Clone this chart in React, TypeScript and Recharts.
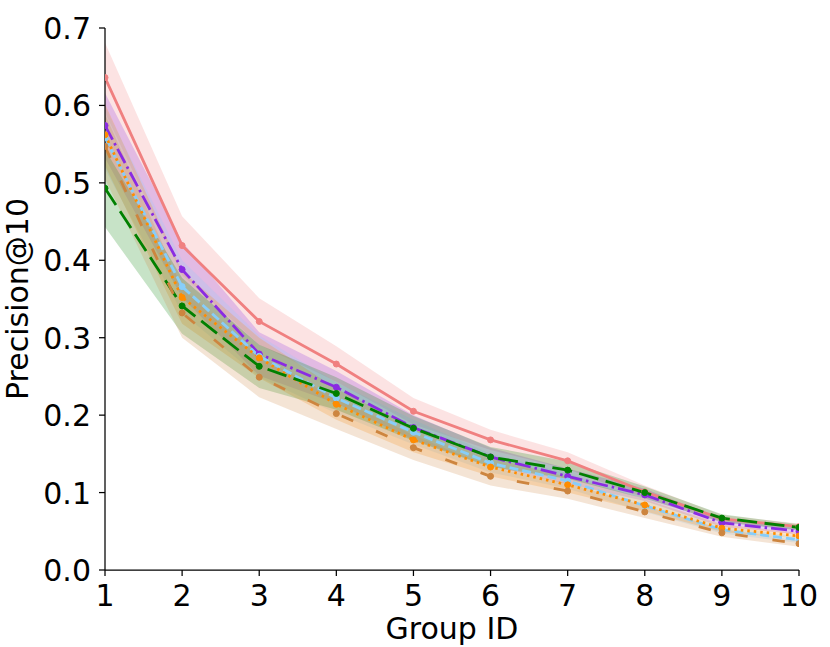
import { Area, ComposedChart, Customized, Line, XAxis, YAxis } from "recharts";

const FONT = "DejaVu Sans, sans-serif";

const GROUPS = [1, 2, 3, 4, 5, 6, 7, 8, 9, 10];
const Y_TICKS = [0, 0.1, 0.2, 0.3, 0.4, 0.5, 0.6, 0.7];

const RED = [0.636, 0.419, 0.321, 0.266, 0.205, 0.168, 0.141, 0.101, 0.066, 0.056];
const RED_ERR = [0.045, 0.038, 0.03, 0.023, 0.017, 0.013, 0.011, 0.008, 0.005, 0.004];

const PURPLE = [0.574, 0.388, 0.279, 0.236, 0.184, 0.146, 0.121, 0.097, 0.061, 0.05];
const PURPLE_ERR = [0.042, 0.036, 0.028, 0.021, 0.016, 0.012, 0.01, 0.008, 0.005, 0.004];

const SKY = [0.558, 0.366, 0.276, 0.222, 0.178, 0.138, 0.115, 0.083, 0.052, 0.039];
const SKY_ERR = [0.04, 0.034, 0.027, 0.02, 0.016, 0.012, 0.01, 0.008, 0.005, 0.004];

const ORANGE = [0.562, 0.352, 0.274, 0.214, 0.168, 0.133, 0.11, 0.084, 0.054, 0.044];
const ORANGE_ERR = [0.04, 0.034, 0.026, 0.02, 0.016, 0.012, 0.01, 0.008, 0.005, 0.004];

const GREEN = [0.493, 0.341, 0.263, 0.228, 0.183, 0.146, 0.129, 0.1, 0.067, 0.055];
const GREEN_ERR = [0.05, 0.036, 0.028, 0.021, 0.016, 0.013, 0.011, 0.008, 0.005, 0.004];

const PERU = [0.547, 0.332, 0.249, 0.202, 0.158, 0.121, 0.102, 0.075, 0.048, 0.034];
const PERU_ERR = [0.042, 0.032, 0.026, 0.02, 0.016, 0.012, 0.01, 0.008, 0.005, 0.004];

const SERIES = [
  { key: "red", color: "#F08080", values: RED, err: RED_ERR, dash: undefined },
  { key: "purple", color: "#8A2BE2", values: PURPLE, err: PURPLE_ERR, dash: "16 4 2.5 4" },
  { key: "sky", color: "#87CEFA", values: SKY, err: SKY_ERR, dash: "9 4" },
  { key: "orange", color: "#FF8C00", values: ORANGE, err: ORANGE_ERR, dash: "2.5 4" },
  { key: "green", color: "#008000", values: GREEN, err: GREEN_ERR, dash: "20 7.5" },
  { key: "peru", color: "#CD853F", values: PERU, err: PERU_ERR, dash: "12.5 25" },
];

const data = GROUPS.map((group, i) => {
  const row: Record<string, number | number[]> = { group };
  SERIES.forEach((s) => {
    row[s.key] = s.values[i];
    row[s.key + "Band"] = [s.values[i] - s.err[i], s.values[i] + s.err[i]];
  });
  return row;
});

const XTick = ({ x, y, payload }: any) => (
  <text x={x} y={y + 28} textAnchor="middle" fontSize={30} fontFamily={FONT} fill="#000">
    {payload.value}
  </text>
);

const YTick = ({ x, y, payload }: any) => (
  <text x={x - 6} y={y + 11} textAnchor="end" fontSize={30} fontFamily={FONT} fill="#000">
    {Number(payload.value).toFixed(1)}
  </text>
);

const Titles = () => (
  <g fontFamily={FONT} fontSize={30} fill="#000">
    <text x={452} y={639} textAnchor="middle">
      Group ID
    </text>
    <text x={28} y={299} textAnchor="middle" transform="rotate(-90, 28, 299)">
      Precision@10
    </text>
  </g>
);

export default function App() {
  return (
    <div style={{ position: "absolute", left: 0, top: 0, background: "#fff" }}>
      <ComposedChart width={830} height={647} data={data} margin={{ top: 28, right: 31, bottom: 0, left: 0 }}>
        <XAxis
          dataKey="group"
          type="number"
          domain={[1, 10]}
          ticks={GROUPS}
          height={77}
          axisLine={{ stroke: "#000", strokeWidth: 1.25 }}
          tickLine={{ stroke: "#000", strokeWidth: 1.25 }}
          tickSize={6}
          tick={<XTick />}
          allowDataOverflow
        />
        <YAxis
          type="number"
          domain={[0, 0.7]}
          ticks={Y_TICKS}
          width={105}
          axisLine={{ stroke: "#000", strokeWidth: 1.25 }}
          tickLine={{ stroke: "#000", strokeWidth: 1.25 }}
          tickSize={6}
          tick={<YTick />}
          allowDataOverflow
        />
        {SERIES.map((s) => (
          <Area
            key={s.key + "Band"}
            dataKey={s.key + "Band"}
            type="linear"
            fill={s.color}
            fillOpacity={0.22}
            stroke="none"
            activeDot={false}
            isAnimationActive={false}
          />
        ))}
        {SERIES.map((s) => (
          <Line
            key={s.key}
            dataKey={s.key}
            type="linear"
            stroke={s.color}
            strokeWidth={2.8}
            strokeDasharray={s.dash}
            dot={{ r: 3, fill: s.color, stroke: s.color, strokeWidth: 1, strokeDasharray: "" }}
            activeDot={false}
            isAnimationActive={false}
          />
        ))}
        <Customized component={Titles} />
      </ComposedChart>
    </div>
  );
}
